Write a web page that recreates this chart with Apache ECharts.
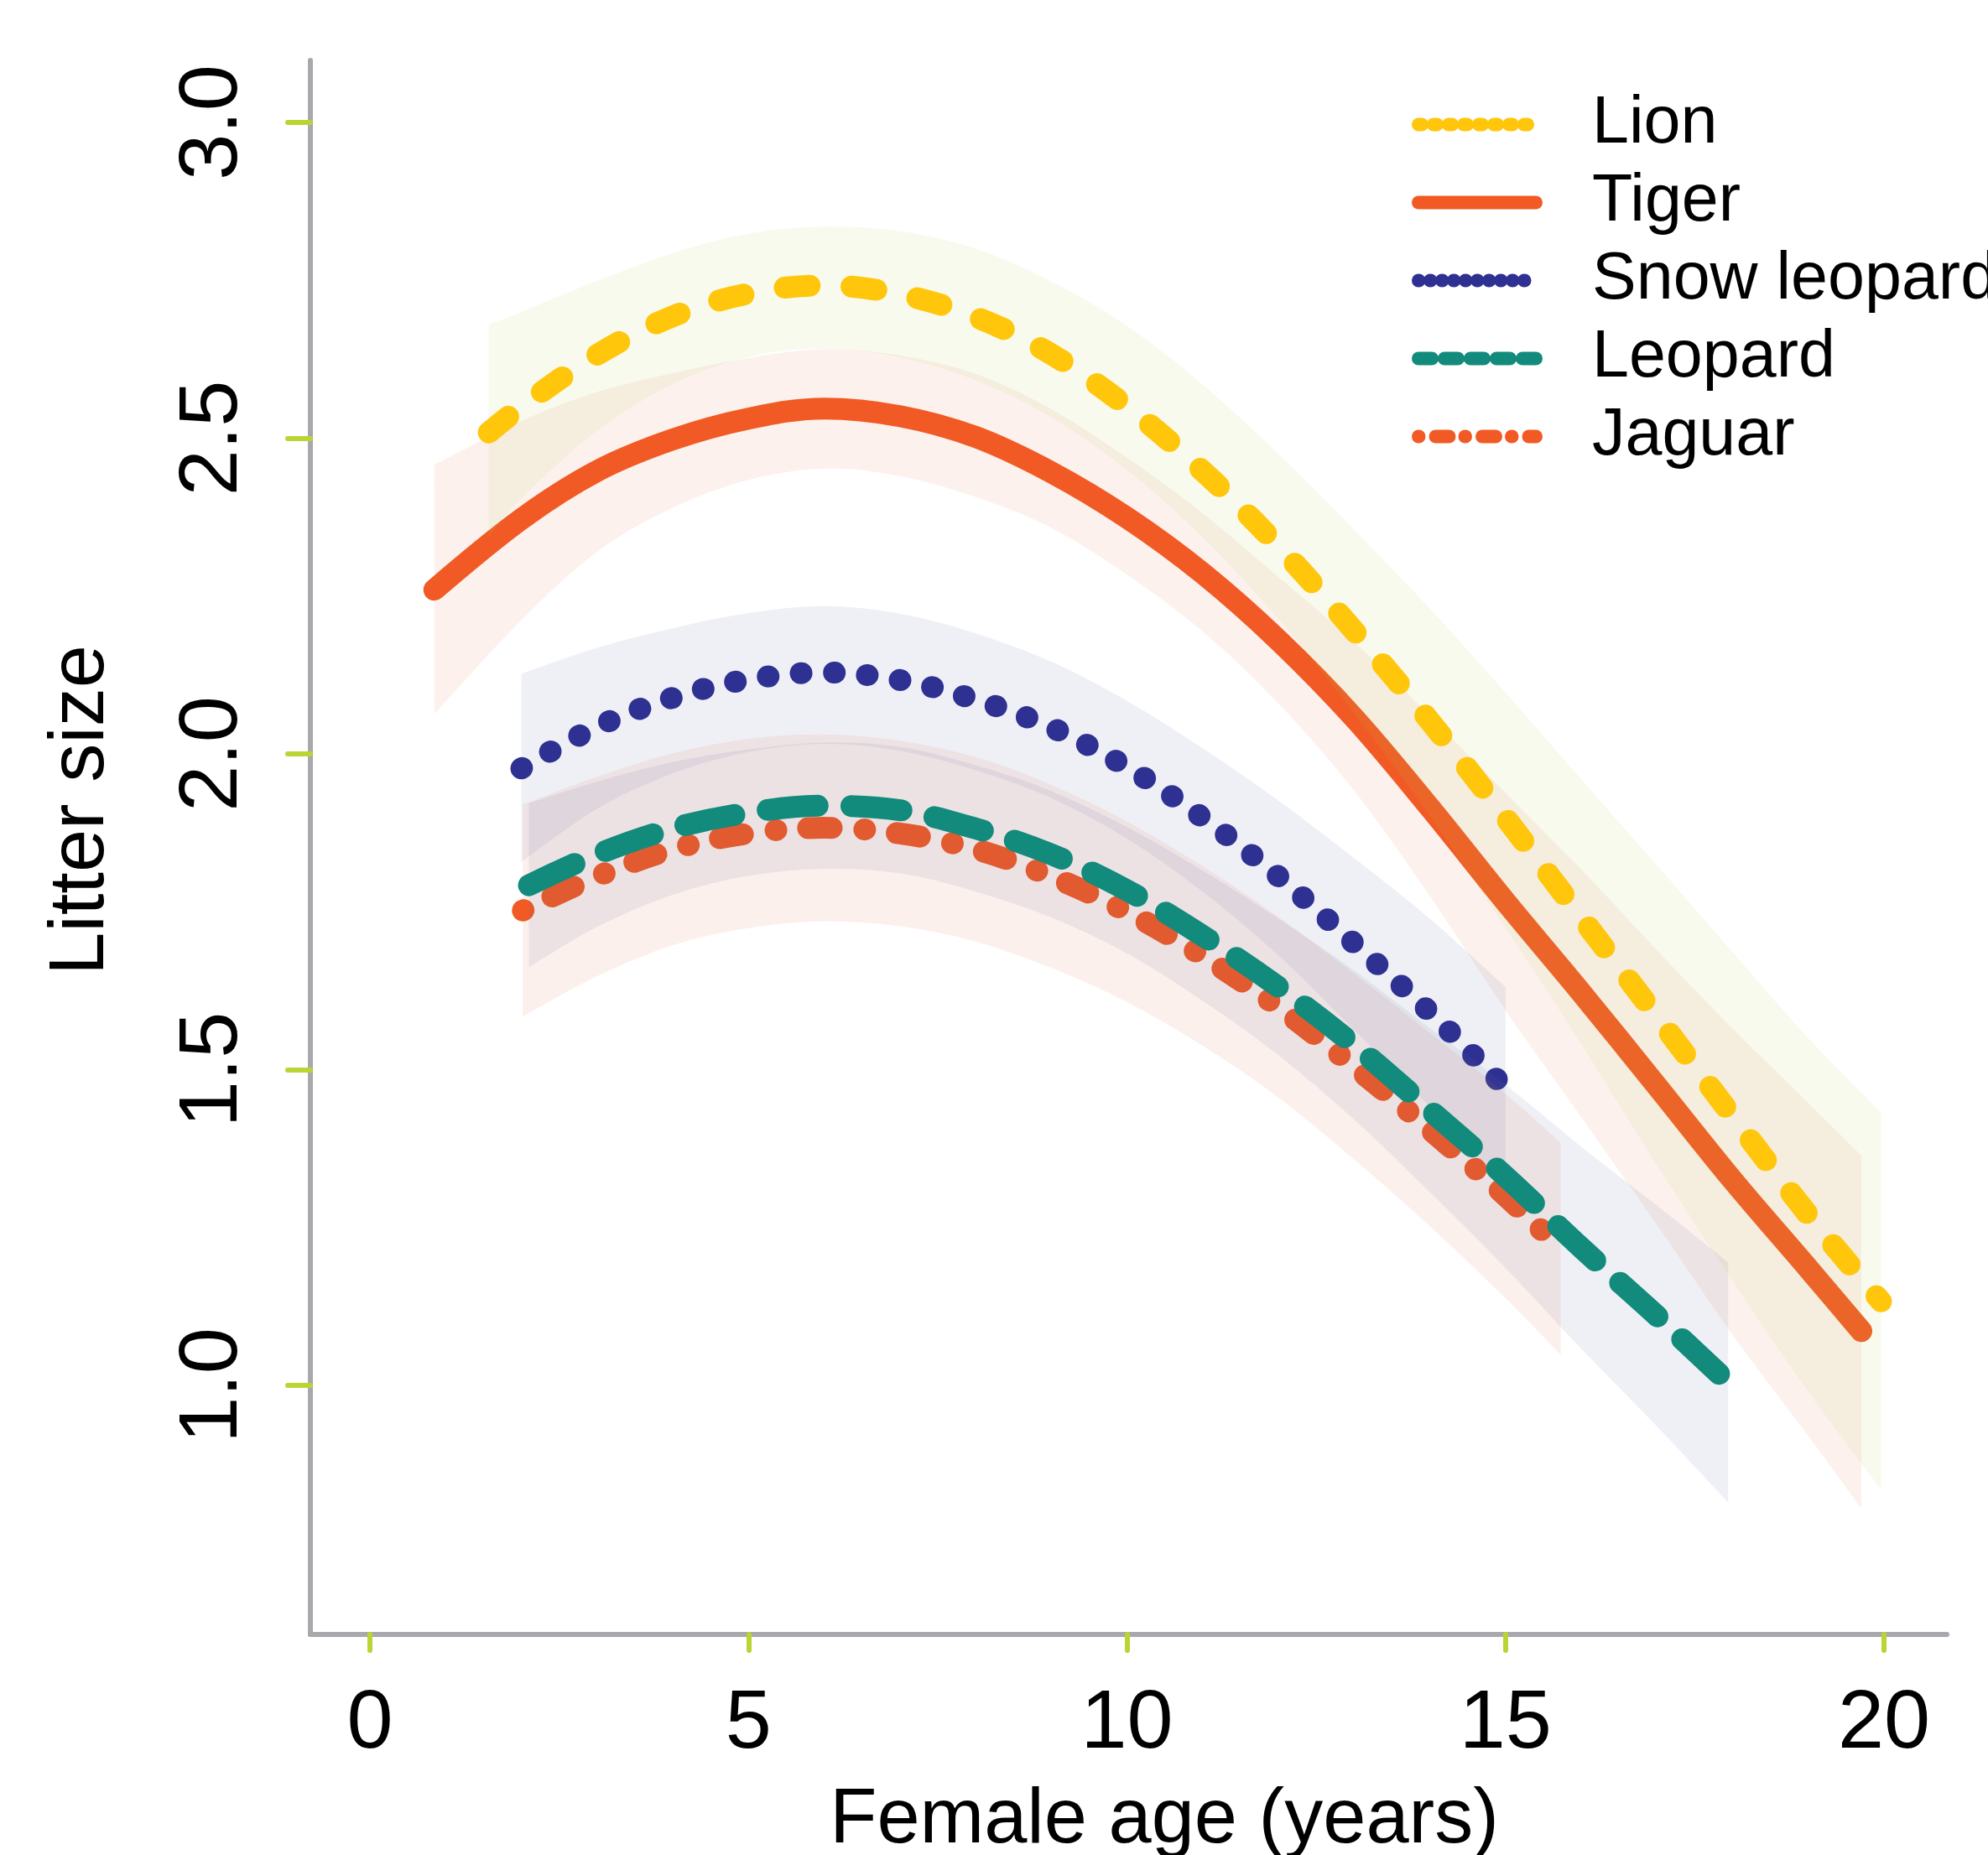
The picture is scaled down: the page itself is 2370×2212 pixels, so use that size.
<!DOCTYPE html>
<html><head><meta charset="utf-8">
<script src="https://cdn.jsdelivr.net/npm/echarts@6/dist/echarts.min.js"></script>
<style>html,body{margin:0;padding:0;background:#fff}#c{width:2370px;height:2212px}</style>
</head><body><div id="c"></div>
<script>
const xTicks = [0, 5, 10, 15, 20];
const yTicks = [1.0, 1.5, 2.0, 2.5, 3.0];

const lionAge = [1.57,2,3,4,5,6,7,8,9,10,11,12,13,14,15,16,17,18,19,19.96];
const lionFit = [2.509,2.550,2.632,2.693,2.729,2.742,2.728,2.692,2.633,2.550,2.448,2.329,2.195,2.052,1.899,1.741,1.584,1.426,1.270,1.133];
const lionLower = [2.344,2.405,2.512,2.586,2.629,2.642,2.628,2.592,2.533,2.450,2.343,2.214,2.065,1.902,1.724,1.541,1.349,1.166,0.990,0.835];
const lionUpper = [2.680,2.700,2.749,2.793,2.824,2.835,2.828,2.800,2.748,2.678,2.585,2.475,2.355,2.230,2.097,1.960,1.824,1.686,1.550,1.432];

const tigerAge = [0.85,2,3,4,5,6,7,8,9,10,11,12,13,14,15,16,17,18,19,19.7];
const tigerFit = [2.260,2.372,2.448,2.498,2.531,2.547,2.535,2.502,2.446,2.374,2.286,2.180,2.057,1.915,1.766,1.622,1.474,1.325,1.185,1.086];
const tigerLower = [2.063,2.212,2.320,2.390,2.434,2.452,2.440,2.407,2.358,2.284,2.194,2.080,1.942,1.775,1.594,1.425,1.254,1.080,0.920,0.805];
const tigerUpper = [2.458,2.527,2.573,2.603,2.627,2.641,2.631,2.602,2.546,2.469,2.381,2.280,2.177,2.060,1.938,1.817,1.689,1.565,1.447,1.364];

const snowAge = [2,3,4,5,6,7,8,9,10,11,12,13,14,15];
const snowFit = [1.977,2.043,2.089,2.118,2.129,2.117,2.086,2.042,1.979,1.899,1.806,1.700,1.591,1.471];
const snowLower = [1.829,1.913,1.969,2.003,2.016,2.005,1.974,1.930,1.866,1.782,1.681,1.563,1.441,1.309];
const snowUpper = [2.127,2.168,2.199,2.223,2.234,2.222,2.191,2.146,2.084,2.009,1.926,1.835,1.739,1.631];

const leopardAge = [2.1,3,4,5,6,7,8,9,10,11,12,13,14,15,16,17,17.94];
const leopardFit = [1.792,1.841,1.882,1.907,1.918,1.911,1.882,1.841,1.784,1.712,1.631,1.539,1.436,1.331,1.218,1.110,1.005];
const leopardLower = [1.662,1.726,1.777,1.807,1.818,1.811,1.782,1.741,1.684,1.609,1.523,1.421,1.306,1.186,1.058,0.935,0.815];
const leopardUpper = [1.922,1.956,1.987,2.007,2.018,2.011,1.982,1.941,1.884,1.815,1.739,1.657,1.566,1.476,1.378,1.285,1.195];

const jaguarAge = [2.02,3,4,5,6,7,8,9,10,11,12,13,14,15,15.73];
const jaguarFit = [1.752,1.806,1.849,1.874,1.883,1.874,1.849,1.806,1.750,1.680,1.599,1.505,1.405,1.300,1.216];
const jaguarLower = [1.584,1.648,1.697,1.724,1.735,1.727,1.703,1.661,1.607,1.538,1.456,1.358,1.252,1.138,1.048];
const jaguarUpper = [1.920,1.964,2.001,2.024,2.031,2.021,1.995,1.951,1.893,1.822,1.742,1.652,1.558,1.462,1.384];

const FONT = 'Liberation Sans';
const pairs = (xs, ys) => xs.map((x, i) => [x, ys[i]]);

function fitLine(name, ages, fit, color, dash, z) {
  return {
    name: name, type: 'line', data: pairs(ages, fit), smooth: 0.35, symbol: 'none',
    showSymbol: false, z: z, silent: true,
    lineStyle: { color: color, width: 26, type: dash, cap: 'round', join: 'round' },
    itemStyle: { color: color }
  };
}

// Catmull-Rom curve through pixel points (rendering only)
function curveTo(pts) {
  let d = '';
  for (let i = 0; i < pts.length - 1; i++) {
    const p0 = pts[i - 1] || pts[i], p1 = pts[i], p2 = pts[i + 1], p3 = pts[i + 2] || pts[i + 1];
    const c1 = [p1[0] + (p2[0] - p0[0]) / 6, p1[1] + (p2[1] - p0[1]) / 6];
    const c2 = [p2[0] - (p3[0] - p1[0]) / 6, p2[1] - (p3[1] - p1[1]) / 6];
    d += ' C' + c1[0] + ' ' + c1[1] + ' ' + c2[0] + ' ' + c2[1] + ' ' + p2[0] + ' ' + p2[1];
  }
  return d;
}

function band(key, ages, lower, upper, fill, z) {
  return {
    name: key, type: 'custom', coordinateSystem: 'cartesian2d', z: z, silent: true,
    data: ages.map((a, i) => [a, lower[i], upper[i]]),
    encode: { x: 0, y: [1, 2] },
    renderItem: function (params, api) {
      if (params.dataIndex !== 0) return null;
      const up = ages.map((a, i) => api.coord([a, upper[i]]));
      const lo = ages.map((a, i) => api.coord([a, lower[i]])).reverse();
      let d = 'M' + up[0][0] + ' ' + up[0][1] + curveTo(up);
      d += ' L' + lo[0][0] + ' ' + lo[0][1] + curveTo(lo) + ' Z';
      return { type: 'path', shape: { pathData: d }, style: { fill: fill, stroke: null } };
    }
  };
}

// drawing order: each band under its own line; later species' bands tint earlier lines
const series = [
  band('tigerBand', tigerAge, tigerLower, tigerUpper, 'rgba(225,115,65,0.1)', 1),
  fitLine('Tiger', tigerAge, tigerFit, '#F15A24', 'solid', 2),
  band('lionBand', lionAge, lionLower, lionUpper, 'rgba(185,205,85,0.1)', 3),
  fitLine('Lion', lionAge, lionFit, '#FFC60B', [30, 49.7], 4),
  band('snowBand', snowAge, snowLower, snowUpper, 'rgba(95,105,155,0.1)', 5),
  fitLine('Snow leopard', snowAge, snowFit, '#2E3192', [1, 38.5], 6),
  band('jaguarBand', jaguarAge, jaguarLower, jaguarUpper, 'rgba(225,105,75,0.1)', 7),
  fitLine('Jaguar', jaguarAge, jaguarFit, '#F15A24', [1, 38, 28, 39], 8),
  band('leopardBand', leopardAge, leopardLower, leopardUpper, 'rgba(95,105,155,0.1)', 9),
  fitLine('Leopard', leopardAge, leopardFit, '#128A7C', [60, 40], 10)
];

const chart = echarts.init(document.getElementById('c'), null, { renderer: 'canvas' });
chart.setOption({
  animation: false,
  backgroundColor: '#ffffff',
  grid: { left: 370, right: 49, top: 72, bottom: 263, containLabel: false, outerBoundsMode: 'none' },
  xAxis: {
    type: 'value', min: -0.787, max: 20.83,
    splitLine: { show: false },
    axisLine: { show: true, onZero: false, lineStyle: { color: '#A7A9AC', width: 6, cap: 'round' } },
    axisTick: { show: true, customValues: xTicks, length: 19, lineStyle: { color: '#BAD532', width: 6, cap: 'round' } },
    axisLabel: { customValues: xTicks, fontSize: 99, fontFamily: FONT, color: '#000', margin: 58 }
  },
  yAxis: {
    type: 'value', min: 0.6056, max: 3.0983,
    splitLine: { show: false },
    axisLine: { show: true, onZero: false, lineStyle: { color: '#A7A9AC', width: 6, cap: 'round' } },
    axisTick: { show: true, customValues: yTicks, length: 27, lineStyle: { color: '#BAD532', width: 6, cap: 'round' } },
    axisLabel: { customValues: yTicks, rotate: 90, fontSize: 99, fontFamily: FONT, color: '#000', margin: 66,
      formatter: v => v.toFixed(1) }
  },
  legend: {
    orient: 'vertical', left: 1678, top: 97, itemWidth: 140, itemHeight: 16, itemGap: 0,
    selectedMode: false, z: 20,
    textStyle: { fontSize: 79, fontFamily: FONT, color: '#000', lineHeight: 93, padding: [0, 0, 0, 62] },
    itemStyle: { opacity: 0, color: 'rgba(0,0,0,0)', borderWidth: 0 },
    data: [
      { name: 'Lion', lineStyle: { width: 16, type: [4, 14], cap: 'round', color: '#FFC60B' } },
      { name: 'Tiger', lineStyle: { width: 16, type: 'solid', cap: 'round', color: '#F15A24' } },
      { name: 'Snow leopard', lineStyle: { width: 16, type: [0.5, 13.5], cap: 'round', color: '#2E3192' } },
      { name: 'Leopard', lineStyle: { width: 16, type: [16, 15], cap: 'round', color: '#128A7C' } },
      { name: 'Jaguar', lineStyle: { width: 16, type: [0.5, 20, 16, 19], cap: 'round', color: '#F15A24' } }
    ]
  },
  graphic: [
    { type: 'text', x: 98, y: 966, rotation: Math.PI / 2, silent: true,
      style: { text: 'Litter size', fontSize: 92, fontFamily: FONT, fill: '#000',
        textAlign: 'center', textVerticalAlign: 'middle', align: 'center', verticalAlign: 'middle' } },
    { type: 'text', x: 1388, y: 2172, silent: true,
      style: { text: 'Female age (years)', fontSize: 92, fontFamily: FONT, fill: '#000',
        textAlign: 'center', textVerticalAlign: 'middle', align: 'center', verticalAlign: 'middle' } }
  ],
  series: series
});
</script></body></html>
